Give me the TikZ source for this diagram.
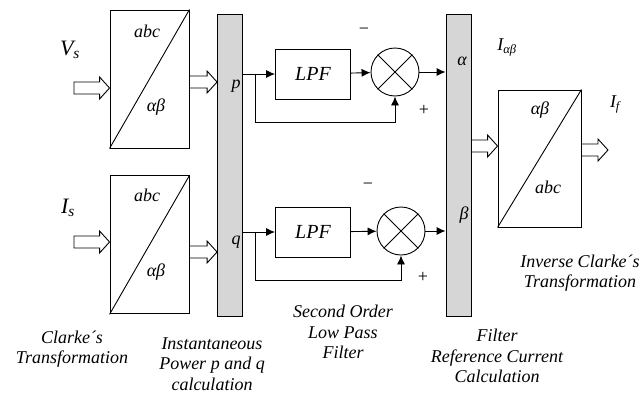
\documentclass[tikz,border=0pt]{standalone}
\usepackage{fontspec}
\setmainfont{Liberation Serif}
\usetikzlibrary{arrows.meta,positioning,calc}
\definecolor{bargray}{rgb}{0.84,0.84,0.84}
\newcommand{\lowsub}[2]{#1\textsubscript{#2}}
% hollow block arrow between two points on one level
\newcommand{\fatarrow}[2]{%
  \draw let \p1=(#1),\p2=(#2) in
    (\x1,\y1+6pt) -- (\x2-10pt,\y1+6pt) -- (\x2-10pt,\y1+11pt) -- (\x2,\y1)
    -- (\x2-10pt,\y1-11pt) -- (\x2-10pt,\y1-6pt) -- (\x1,\y1-6pt) -- cycle;}

\begin{document}
\begin{tikzpicture}[x=1pt,y=-1pt,line width=0.9pt,
    every node/.style={font=\itshape\fontsize{18}{20.5}\selectfont},
    trafo/.style={draw,minimum width=79pt,minimum height=138pt,inner sep=0pt},
    bus/.style={draw,fill=bargray,minimum width=25pt,minimum height=302pt,inner sep=0pt},
    lpf/.style={draw,minimum width=75pt,minimum height=50pt,font=\itshape\fontsize{20}{20}\selectfont},
    mixer/.style={draw,circle,minimum size=48pt,inner sep=0pt},
    sig/.style={-{Latex[length=9pt,width=8pt]}},
    sign/.style={font=\fontsize{18}{18}\selectfont},
    bigname/.style={font=\itshape\fontsize{22}{22}\selectfont},
    caption/.style={align=center}]
  \useasboundingbox (0,0) rectangle (641,394);
  % transformation blocks
  \node[trafo] (clk1) at (149.5,79) {};
  \node[trafo,below=27pt of clk1] (clk2) {};
  \node[trafo,minimum width=83pt,minimum height=137pt] (inv) at (539.5,158.5) {};
  \draw (clk1.south west) -- (clk1.north east);
  \draw (clk2.south west) -- (clk2.north east);
  \draw (inv.south west) -- (inv.north east);
  \node (c1a) at (147,31) {abc};
  \node (c1b) at (156,107) {αβ};
  \node (c2a) at (147,195) {abc};
  \node (c2b) at (156,272) {αβ};
  \node (i1a) at (540,110) {αβ};
  \node (i1b) at (548,187) {abc};
  % bars
  \node[bus] (bus1) at (230,165) {};
  \node[bus] (bus2) at (458.5,165) {};
  \node (p) at (236,86) {p};
  \node (q) at (236,242) {q};
  \node (al) at (462,61) {α};
  \node (be) at (464,215) {β};
  % filters and mixers
  \node[lpf] (lpf1) at (313,74) {LPF};
  \node[lpf] (lpf2) at (313,232) {LPF};
  \node[mixer] (mix1) at (395,72) {};
  \node[mixer] (mix2) at (401,231) {};
  \draw (mix1.north west) -- (mix1.south east) (mix1.north east) -- (mix1.south west);
  \draw (mix2.north west) -- (mix2.south east) (mix2.north east) -- (mix2.south west);
  \node[sign] (m1) at (364,31) {−};
  \node[sign] (pl1) at (424,110) {+};
  \node[sign] (m2) at (368,186) {−};
  \node[sign] (pl2) at (423,277) {+};
  % wide arrows
  \coordinate (vin) at (74,88);
  \coordinate (iin) at (74,242);
  \coordinate (fout) at (608,150);
  \fatarrow{vin}{vin -| clk1.west}
  \fatarrow{iin}{iin -| clk2.west}
  \fatarrow{clk1.east |- 0,82}{bus1.west |- 0,82}
  \fatarrow{clk2.east |- 0,252}{bus1.west |- 0,252}
  \fatarrow{bus2.east |- 0,146}{inv.west |- 0,146}
  \fatarrow{inv.east |- fout}{fout}
  % signal lines
  \coordinate (br1) at (255,74);
  \coordinate (br2) at (255,232);
  \draw[sig] (bus1.east |- lpf1) -- (lpf1.west);
  \draw[sig] (bus1.east |- lpf2) -- (lpf2.west);
  \draw[sig] (br1) -- ++(0,48) -| (mix1.south);
  \draw[sig] (br2) -- ++(0,48) -| (mix2.south);
  \draw[sig] (lpf1) -- (mix1);
  \draw[sig] (lpf2) -- (mix2);
  \draw[sig] (mix1.east) -- (bus2.west |- mix1.east);
  \draw[sig] (mix2.east) -- (bus2.west |- mix2.east);
  % signal names
  \node[bigname] (vs) at (70,50) {\lowsub{V}{s}};
  \node[bigname] (is) at (68,208) {\lowsub{I}{s}};
  \node (iab) at (507,47) {\lowsub{I}{αβ}};
  \node (if) at (615,104) {\lowsub{I}{f}};
  % captions
  \node[caption] (t1) at (72,349) {Clarke´s\\Transformation};
  \node[caption] (t2) at (212,364) {Instantaneous\\Power p and q\\calculation};
  \node[caption] (t3) at (343,332) {Second Order\\Low Pass\\Filter};
  \node[caption] (t4) at (497,356) {Filter\\Reference Current\\Calculation};
  \node[caption] (t5) at (580,273) {Inverse Clarke´s\\Transformation};
\end{tikzpicture}
\end{document}
